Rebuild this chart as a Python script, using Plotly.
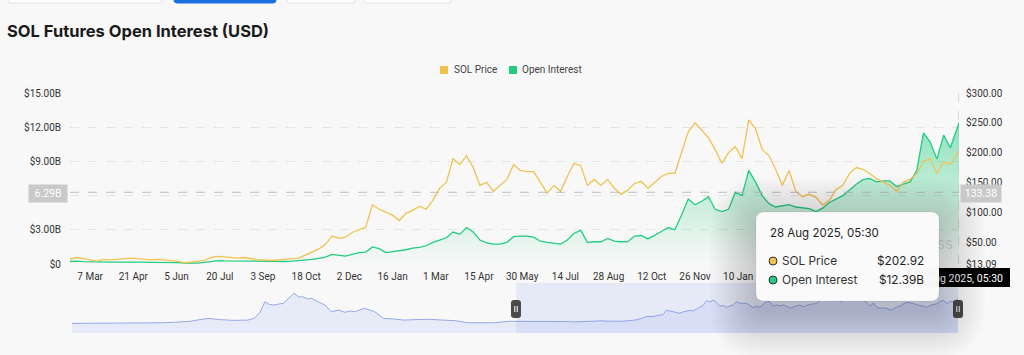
import plotly.graph_objects as go
import pandas as pd

TITLE = "SOL Futures Open Interest (USD)"
SERIES_NAMES = ["SOL Price", "Open Interest"]

# weekly samples, last point = hovered 28 Aug 2025
DATES = list(pd.date_range("2023-02-14", periods=132, freq="7D").strftime("%Y-%m-%d")) + ["2025-08-28"]

PRICE = [
    21, 24, 22, 20, 18, 21, 20, 21, 22, 23,
    22, 21, 20, 21, 20, 20, 18, 15, 16, 17,
    19, 24, 26, 25, 24, 23, 24, 22, 20, 20,
    19, 20, 21, 22, 23, 28, 33, 38, 46, 60,
    56, 58, 66, 70, 75, 112, 105, 100, 95, 86,
    98, 103, 110, 105, 120, 140, 150, 190, 180, 195,
    175, 145, 150, 135, 145, 155, 180, 170, 168, 168,
    150, 132, 145, 135, 160, 182, 178, 145, 155, 145,
    155, 140, 130, 137, 148, 152, 140, 150, 160, 165,
    165, 200, 235, 250, 238, 225, 205, 182, 200, 210,
    190, 255, 240, 205, 195, 172, 145, 170, 135, 126,
    130, 125, 112, 120, 138, 145, 165, 175, 172, 165,
    156, 150, 145, 135, 150, 155, 165, 185, 190, 165,
    185, 180, 202.92,
]

OI_B = [
    0.22, 0.25, 0.20, 0.18, 0.15, 0.17, 0.16, 0.17, 0.18, 0.17,
    0.16, 0.16, 0.15, 0.15, 0.14, 0.14, 0.12, 0.08, 0.07, 0.08,
    0.15, 0.25, 0.30, 0.28, 0.27, 0.25, 0.26, 0.24, 0.20, 0.20,
    0.21, 0.22, 0.22, 0.25, 0.28, 0.35, 0.40, 0.50, 0.60, 0.85,
    0.75, 0.70, 0.85, 1.00, 1.05, 1.50, 1.35, 1.00, 1.08, 1.15,
    1.25, 1.40, 1.45, 1.60, 1.90, 2.10, 2.30, 2.80, 2.60, 3.20,
    2.80, 2.10, 1.85, 1.75, 1.75, 1.90, 2.40, 2.45, 2.45, 2.35,
    2.00, 1.90, 1.80, 1.75, 2.10, 2.70, 2.95, 1.90, 1.95, 1.95,
    2.25, 2.00, 1.95, 1.96, 2.45, 2.50, 2.20, 2.50, 2.85, 3.20,
    3.00, 4.30, 5.70, 5.20, 5.50, 5.90, 4.80, 4.60, 4.80, 6.30,
    6.00, 8.20, 7.20, 6.00, 5.30, 5.00, 5.10, 5.20, 5.00, 4.90,
    4.85, 4.60, 4.90, 5.40, 5.70, 6.00, 6.50, 7.00, 7.40, 7.50,
    7.20, 7.30, 7.30, 6.80, 7.00, 7.20, 8.20, 11.50, 10.70, 9.20,
    11.30, 10.20, 12.39,
]
OI = [v * 1e9 for v in OI_B]

# navigator: earlier price history (before the selected window)
NAV_HIST_DATES = [
    "2020-07-29", "2020-09-01", "2020-10-01", "2020-11-01", "2020-12-01", "2021-01-01",
    "2021-02-01", "2021-03-01", "2021-04-01", "2021-05-01", "2021-05-12", "2021-06-01",
    "2021-07-01", "2021-08-01", "2021-08-15", "2021-08-27", "2021-09-06", "2021-09-15",
    "2021-09-25", "2021-10-05", "2021-10-15", "2021-10-22", "2021-11-06", "2021-11-16",
    "2021-11-24", "2021-12-06", "2021-12-12", "2021-12-27", "2022-01-10", "2022-01-23",
    "2022-02-08", "2022-02-20", "2022-03-04", "2022-03-13", "2022-04-03", "2022-04-24",
    "2022-05-13", "2022-06-03", "2022-06-24", "2022-07-25", "2022-08-17", "2022-09-15",
    "2022-10-10", "2022-11-06", "2022-12-08", "2022-12-31", "2023-01-27", "2023-02-10",
]
NAV_HIST_PRICE = [
    3, 3, 3, 2, 2, 2,
    8, 12, 20, 39, 44, 35,
    28, 30, 44, 96, 181, 160,
    154, 162, 168, 195, 250, 220,
    222, 203, 210, 181, 154, 99,
    113, 94, 105, 99, 127, 99,
    44, 39, 30, 35, 36, 30,
    25, 8, 6, 8, 20, 20,
]

X_TICKS = ["2023-03-07", "2023-04-21", "2023-06-05", "2023-07-20", "2023-09-03", "2023-10-18",
           "2023-12-02", "2024-01-16", "2024-03-01", "2024-04-15", "2024-05-30", "2024-07-14",
           "2024-08-28", "2024-10-12", "2024-11-26", "2025-01-10"]
X_TICK_TEXT = ["7 Mar", "21 Apr", "5 Jun", "20 Jul", "3 Sep", "18 Oct", "2 Dec", "16 Jan",
               "1 Mar", "15 Apr", "30 May", "14 Jul", "28 Aug", "12 Oct", "26 Nov", "10 Jan"]
OI_TICKS = [0, 3e9, 6e9, 9e9, 12e9, 15e9]
OI_TICK_TEXT = ["$0", "$3.00B", "", "$9.00B", "$12.00B", "$15.00B"]  # $6.00B hidden under crosshair label
PRICE_TICKS = [13.09, 50, 100, 150, 200, 250, 300]
PRICE_TICK_TEXT = ["$13.09", "$50.00", "$100.00", "$150.00", "$200.00", "$250.00", "$300.00"]

HOVER_DATE = "28 Aug 2025, 05:30"
HOVER_PRICE = "$202.92"
HOVER_OI = "$12.39B"
CROSS_OI = 6.29e9
CROSS_OI_TEXT = "6.29B"
CROSS_PRICE_TEXT = "133.38"

YELLOW = "#F2C24F"
GREEN = "#22CC80"
BG = "#F8F8F8"
FONT = "Inter"
TICKFONT = "Roboto"

# ---------- geometry helpers (pixel -> paper) ----------
L, R, T, B = 70, 65, 93, 22
W, H = 1024, 355
PW, PH = W - L - R, H - T - B


def px(X):
    return (X - L) / PW


def py(Y):
    return (H - B - Y) / PH


def rrect(x0, y0, x1, y1, r):
    pts = [("M", [(x0 + r, y0)]), ("L", [(x1 - r, y0)]), ("Q", [(x1, y0), (x1, y0 + r)]),
           ("L", [(x1, y1 - r)]), ("Q", [(x1, y1), (x1 - r, y1)]), ("L", [(x0 + r, y1)]),
           ("Q", [(x0, y1), (x0, y1 - r)]), ("L", [(x0, y0 + r)]), ("Q", [(x0, y0), (x0 + r, y0)])]
    s = ""
    for cmd, ps in pts:
        s += cmd + " " + " ".join(f"{px(a):.5f},{py(b):.5f}" for a, b in ps) + " "
    return s + "Z"


main_bottom = 264
nav_top, nav_bottom = 283, 333

fig = go.Figure()

fig.add_trace(go.Scatter(
    x=DATES, y=OI, name=SERIES_NAMES[1], mode="lines",
    line=dict(color=GREEN, width=1.3), fill="tozeroy",
    fillgradient=dict(type="vertical", start=0, stop=12.6e9,
                      colorscale=[[0, "rgba(34,204,128,0.0)"], [1, "rgba(34,204,128,0.5)"]]),
    xaxis="x", yaxis="y", showlegend=False, hoverinfo="skip",
))
fig.add_trace(go.Scatter(
    x=DATES, y=PRICE, name=SERIES_NAMES[0], mode="lines",
    line=dict(color=YELLOW, width=1.3),
    xaxis="x", yaxis="y2", showlegend=False, hoverinfo="skip",
))
fig.add_trace(go.Scatter(
    x=NAV_HIST_DATES + DATES, y=NAV_HIST_PRICE + PRICE, mode="lines",
    line=dict(color="rgb(150,170,232)", width=1), fill="tozeroy",
    fillcolor="rgba(205,214,245,0.4)",
    xaxis="x2", yaxis="y3", showlegend=False, hoverinfo="skip",
))

shapes = []
# top tabs (cut off)
for (a, b, fillc, linec) in [(8, 162, "white", "#E4E4E4"), (174, 276, "#1B6FE0", "#1B6FE0"),
                             (287, 355, "white", "#E4E4E4"), (364, 451, "white", "#E4E4E4")]:
    shapes.append(dict(type="path", path=rrect(a, -12, b, 3, 3), xref="paper", yref="paper",
                       fillcolor=fillc, line=dict(color=linec, width=1), layer="above"))
# legend swatches
shapes.append(dict(type="rect", xref="paper", yref="paper", x0=px(440), x1=px(448), y0=py(74), y1=py(66),
                   fillcolor=YELLOW, line=dict(width=0)))
shapes.append(dict(type="rect", xref="paper", yref="paper", x0=px(509), x1=px(517), y0=py(74), y1=py(66),
                   fillcolor=GREEN, line=dict(width=0)))
# navigator bottom fill below zero + selected band
shapes.append(dict(type="rect", xref="x2", yref="y3", x0=NAV_HIST_DATES[0], x1=DATES[-1], y0=-76, y1=0,
                   fillcolor="rgba(205,214,245,0.4)", line=dict(width=0), layer="below"))
shapes.append(dict(type="rect", xref="x2", yref="y3 domain", x0=DATES[0], x1=DATES[-1], y0=0, y1=1,
                   fillcolor="rgba(120,150,235,0.14)", line=dict(width=0), layer="above"))
# crosshair lines
shapes.append(dict(type="line", xref="x domain", yref="y", x0=0, x1=1, y0=CROSS_OI, y1=CROSS_OI,
                   line=dict(color="#BDBDBD", width=1, dash="dash")))
shapes.append(dict(type="line", xref="x", yref="paper", x0=DATES[-1], x1=DATES[-1], y0=py(264), y1=1,
                   line=dict(color="#BDBDBD", width=1, dash="dash")))
# navigator handles
for hx in (516, 958):
    shapes.append(dict(type="path", path=rrect(hx - 5, 300, hx + 5, 318, 3), xref="paper", yref="paper",
                       fillcolor="#4A4A4A", line=dict(width=0)))
    for dx in (-1.2, 1.2):
        shapes.append(dict(type="line", xref="paper", yref="paper", x0=px(hx + dx), x1=px(hx + dx),
                           y0=py(306), y1=py(312), line=dict(color="white", width=1)))
# bottom crosshair date label (partly hidden by tooltip)
shapes.append(dict(type="rect", xref="paper", yref="paper", x0=px(906), x1=px(1010), y0=py(287), y1=py(268),
                   fillcolor="black", line=dict(width=0),
                   label=dict(text=HOVER_DATE, font=dict(color="white", size=10.5, family=TICKFONT),
                              textposition="middle center")))
# tooltip soft shadow + box
for k in range(16):
    e = 1 + 3 * k
    shapes.append(dict(type="path", path=rrect(756 - e, 212 - e + 12, 939 + e, 301 + e + 12, 8 + e),
                       xref="paper", yref="paper", fillcolor="rgba(0,0,0,0.013)", line=dict(width=0)))
shapes.append(dict(type="path", path=rrect(756, 212, 939, 301, 8), xref="paper", yref="paper",
                   fillcolor="rgba(251,251,252,0.98)", line=dict(color="rgba(0,0,0,0.05)", width=1)))
for (cy, col) in ((261, YELLOW), (280, GREEN)):
    shapes.append(dict(type="circle", xref="paper", yref="paper", x0=px(769), x1=px(777),
                       y0=py(cy + 4), y1=py(cy - 4), fillcolor=col, line=dict(color="#333", width=1)))

ann = []
ann.append(dict(text=f"<b>{TITLE}</b>", x=px(5), y=py(31), xref="paper", yref="paper",
                xanchor="left", yanchor="middle", showarrow=False,
                font=dict(family=FONT, size=16.5, color="#1A1A1A")))
ann.append(dict(text=SERIES_NAMES[0], x=px(452), y=py(70), xref="paper", yref="paper",
                xanchor="left", yanchor="middle", showarrow=False,
                font=dict(family=TICKFONT, size=10, color="#444")))
ann.append(dict(text=SERIES_NAMES[1], x=px(520), y=py(70), xref="paper", yref="paper",
                xanchor="left", yanchor="middle", showarrow=False,
                font=dict(family=TICKFONT, size=10, color="#444")))
ann.append(dict(text=CROSS_OI_TEXT, x=px(48), y=py(193), xref="paper", yref="paper", showarrow=False,
                xanchor="center", yanchor="middle", width=36, height=15, bgcolor="#C9C9C9",
                font=dict(family=TICKFONT, size=10.5, color="white")))
ann.append(dict(text=CROSS_PRICE_TEXT, x=px(981), y=py(193), xref="paper", yref="paper", showarrow=False,
                xanchor="center", yanchor="middle", width=38, height=15, bgcolor="#C9C9C9",
                font=dict(family=TICKFONT, size=10.5, color="white")))
ann.append(dict(text="ss", x=px(945), y=py(243), xref="paper", yref="paper", showarrow=False,
                xanchor="center", yanchor="middle", font=dict(family=FONT, size=15, color="rgba(0,0,0,0.13)")))
ann.append(dict(text=HOVER_DATE, x=px(768), y=py(233), xref="paper", yref="paper", showarrow=False,
                xanchor="left", yanchor="middle", font=dict(family=FONT, size=11.5, color="#1F1F1F")))
for (cy, name, val) in ((261, SERIES_NAMES[0], HOVER_PRICE), (280, SERIES_NAMES[1], HOVER_OI)):
    ann.append(dict(text=name, x=px(780), y=py(cy), xref="paper", yref="paper", showarrow=False,
                    xanchor="left", yanchor="middle", font=dict(family=FONT, size=11.8, color="#333")))
    ann.append(dict(text=val, x=px(926), y=py(cy), xref="paper", yref="paper", showarrow=False,
                    xanchor="right", yanchor="middle", font=dict(family=FONT, size=11.8, color="#1F1F1F")))

main_dom = [py(main_bottom), 1]
nav_dom = [0, py(nav_top)]

fig.update_layout(
    width=W, height=H, autosize=False,
    margin=dict(l=L, r=R, t=T, b=B),
    paper_bgcolor=BG, plot_bgcolor=BG,
    font=dict(family=TICKFONT, size=10, color="#333"),
    showlegend=False,
    xaxis=dict(domain=[0, 1], range=[DATES[0], DATES[-1]], anchor="y", tickmode="array",
               tickvals=X_TICKS, ticktext=X_TICK_TEXT, showgrid=False, zeroline=False,
               showline=False, ticks="", ticklabelstandoff=5, tickfont=dict(size=10, color="#333")),
    yaxis=dict(domain=main_dom, range=[0, 15e9], anchor="x", tickmode="array", tickvals=OI_TICKS,
               ticktext=OI_TICK_TEXT, showgrid=True, gridcolor="#E5E5E5", griddash="dash",
               zeroline=False, showline=False, ticks="", ticklabelstandoff=8,
               tickfont=dict(size=10, color="#333")),
    yaxis2=dict(domain=main_dom, range=[13.09, 300], overlaying="y", side="right", anchor="x",
                tickmode="array", tickvals=PRICE_TICKS, ticktext=PRICE_TICK_TEXT, showgrid=False,
                zeroline=False, showline=False, ticks="", ticklabelstandoff=6,
                tickfont=dict(size=10, color="#333")),
    xaxis2=dict(domain=[px(72), px(958)], range=[NAV_HIST_DATES[0], DATES[-1]], anchor="y3", visible=False),
    yaxis3=dict(domain=nav_dom, range=[-76, 335], anchor="x2", visible=False),
    shapes=shapes, annotations=ann,
)

fig.write_html("out.html", config={"displayModeBar": False},
               post_script="document.body.style.margin='0';document.body.style.overflow='hidden';")
